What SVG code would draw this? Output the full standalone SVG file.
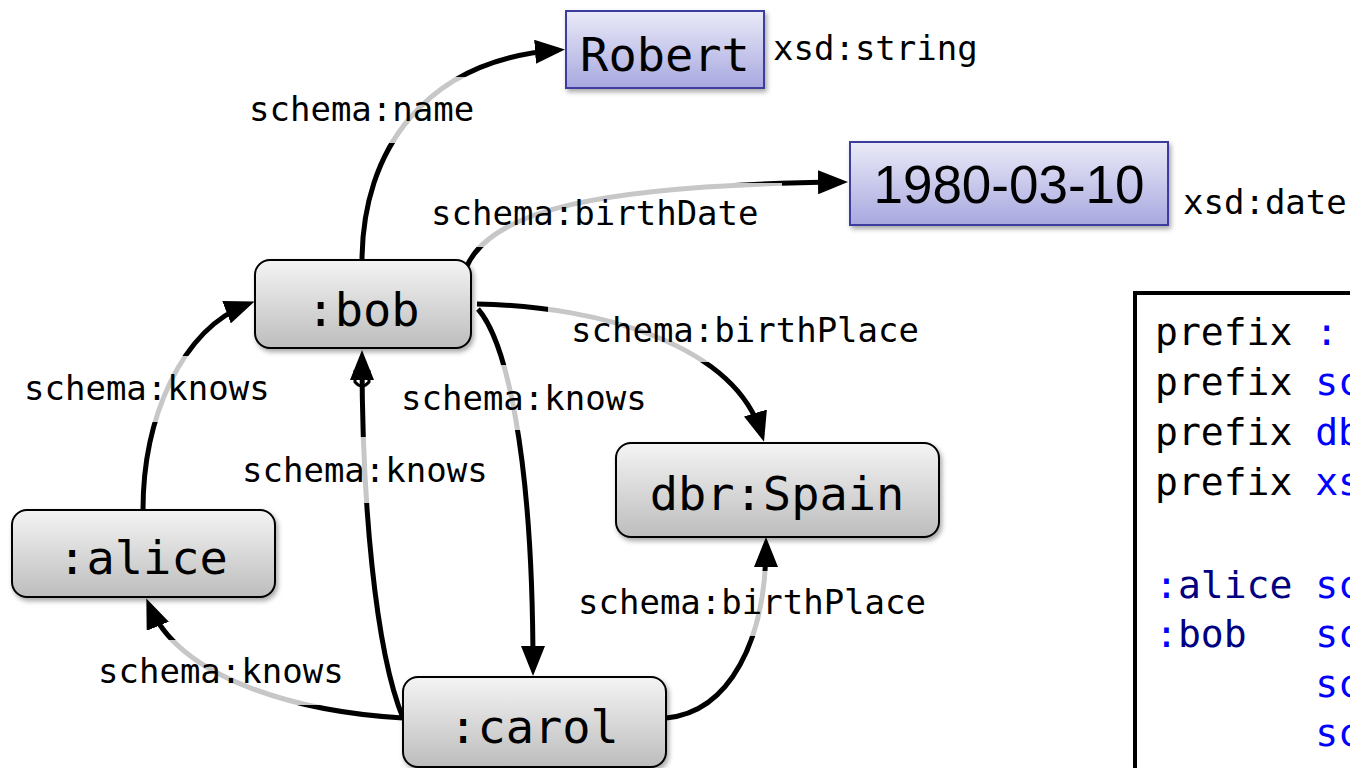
<svg xmlns="http://www.w3.org/2000/svg" width="1350" height="768" viewBox="0 0 1350 768">
<style>
.edge{fill:none;stroke:#000;stroke-width:5;marker-end:url(#ah)}
.lbg{fill:#fff;fill-opacity:0.78}
.lbl{font-family:"DejaVu Sans Mono",monospace;font-size:34px;fill:#000}
.node{fill:url(#gray);stroke:#000;stroke-width:2;filter:url(#sh)}
.lit{fill:url(#lav);stroke:#3c3ca0;stroke-width:2;filter:url(#sh)}
.nt{font-family:"DejaVu Sans Mono",monospace;font-size:47px;fill:#000;text-anchor:middle}
.code{font-family:"DejaVu Sans Mono",monospace;font-size:38px;fill:#000}
.b{fill:#0000ff}
.n{fill:#000080}
</style>
<defs>
<linearGradient id="gray" x1="0" y1="0" x2="0" y2="1">
<stop offset="0" stop-color="#f4f4f4"/><stop offset="1" stop-color="#bdbdbd"/>
</linearGradient>
<linearGradient id="lav" x1="0" y1="0" x2="0" y2="1">
<stop offset="0" stop-color="#eaeaf8"/><stop offset="1" stop-color="#a8a8e0"/>
</linearGradient>
<filter id="sh" x="-10%" y="-10%" width="130%" height="140%">
<feDropShadow dx="2" dy="3" stdDeviation="2.5" flood-color="#000" flood-opacity="0.35"/>
</filter>
<marker id="ah" markerUnits="userSpaceOnUse" viewBox="0 0 30 24" refX="23" refY="12" markerWidth="30" markerHeight="24" orient="auto">
<path d="M0,0 L30,12 L0,24 Z" fill="#000"/>
</marker>
</defs>
<g id="connectors">
<path class="edge" d="M362,262 C362,150 425,60 558,50"/>
<path class="edge" d="M466,268 C490,210 600,185 841,182"/>
<path class="edge" d="M477,304 C600,306 735,345 762,435"/>
<path class="edge" d="M478,309 C505,340 533,450 533,669"/>
<path class="edge" d="M403,718 C375,650 362,500 362,357"/>
<path d="M355,370 L355,382 Q362,390 369,382 L369,370" fill="none" stroke="#000" stroke-width="3"/>
<path class="edge" d="M143,510 C143,420 180,330 248,304"/>
<path class="edge" d="M403,718 C300,712 180,680 149,605"/>
<path class="edge" d="M666,718 C730,712 766,640 766,544"/>
</g>
<g id="labels">
<rect class="lbg" x="226" y="77" width="271" height="66"/>
<text class="lbl" x="249" y="121">schema:name</text>
<rect class="lbg" x="408" y="183" width="374" height="64"/>
<text class="lbl" x="431" y="225">schema:birthDate</text>
<rect class="lbg" x="548" y="297" width="395" height="65"/>
<text class="lbl" x="571" y="342">schema:birthPlace</text>
<rect class="lbg" x="1" y="356" width="290" height="66"/>
<text class="lbl" x="24" y="400">schema:knows</text>
<rect class="lbg" x="378" y="365" width="290" height="65"/>
<text class="lbl" x="401" y="410">schema:knows</text>
<rect class="lbg" x="219" y="437" width="290" height="66"/>
<text class="lbl" x="242" y="482">schema:knows</text>
<rect class="lbg" x="555" y="571" width="394" height="65"/>
<text class="lbl" x="578" y="614">schema:birthPlace</text>
<rect class="lbg" x="75" y="640" width="291" height="65"/>
<text class="lbl" x="98" y="683">schema:knows</text>
<text class="lbl" x="773" y="60">xsd:string</text>
<text class="lbl" x="1183" y="214">xsd:date</text>
</g>
<g id="node-robert">
<rect class="lit" x="566" y="11" width="198" height="77"/>
<text class="nt" x="665" y="71">Robert</text>
</g>
<g id="node-date">
<rect class="lit" x="850" y="142" width="318" height="83"/>
<text x="1009" y="203" font-family="Liberation Sans, Arial, sans-serif" font-size="53" text-anchor="middle">1980-03-10</text>
</g>
<g id="node-bob">
<rect class="node" x="255" y="260" width="216" height="88" rx="15"/>
<text class="nt" x="363" y="326">:bob</text>
</g>
<g id="node-alice">
<rect class="node" x="12" y="510" width="263" height="87" rx="15"/>
<text class="nt" x="143" y="574">:alice</text>
</g>
<g id="node-spain">
<rect class="node" x="616" y="443" width="323" height="94" rx="15"/>
<text class="nt" x="777" y="510">dbr:Spain</text>
</g>
<g id="node-carol">
<rect class="node" x="403" y="677" width="263" height="90" rx="15"/>
<text class="nt" x="534" y="743">:carol</text>
</g>
<g id="code">
<rect x="1135" y="293" width="240" height="500" fill="#fff" stroke="#000" stroke-width="4"/>
<text class="code" x="1155" y="345">prefix <tspan class="b">:</tspan></text>
<text class="code" x="1155" y="395">prefix <tspan class="b">sc</tspan></text>
<text class="code" x="1155" y="445">prefix <tspan class="b">db</tspan></text>
<text class="code" x="1155" y="495">prefix <tspan class="b">xs</tspan></text>
<text class="code" x="1155" y="598" xml:space="preserve"><tspan class="b">:</tspan><tspan class="n">alice</tspan> <tspan class="b">sc</tspan></text>
<text class="code" x="1155" y="647" xml:space="preserve"><tspan class="b">:</tspan><tspan class="n">bob</tspan>   <tspan class="b">sc</tspan></text>
<text class="code" x="1155" y="697" xml:space="preserve">       <tspan class="b">sc</tspan></text>
<text class="code" x="1155" y="746" xml:space="preserve">       <tspan class="b">sc</tspan></text>
</g>
</svg>
